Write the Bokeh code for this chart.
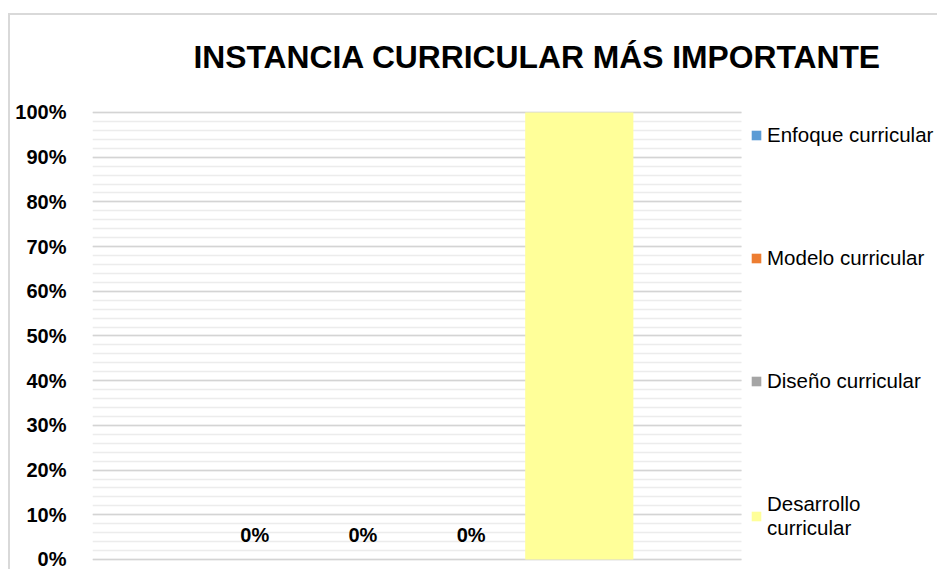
from bokeh.plotting import figure
from bokeh.models import (ColumnDataSource, Range1d, SingleIntervalTicker,
                          NumeralTickFormatter, Legend, LegendItem, Label)
from bokeh.core.properties import value
from bokeh.embed import file_html
from bokeh.resources import INLINE

TITLE = "INSTANCIA CURRICULAR MÁS IMPORTANTE"
series = ["Enfoque curricular", "Modelo curricular", "Diseño curricular", "Desarrollo\ncurricular"]
values = [0.0, 0.0, 0.0, 1.0]
colors = ["#5B9BD5", "#ED7D31", "#A5A5A5", "#FFFF99"]
value_labels = ["0%", "0%", "0%", ""]
positions = [0, 1, 2, 3]

FONT = "Liberation Sans"

p = figure(width=929, height=556, output_backend="svg", toolbar_location=None,
           x_range=Range1d(-1.5, 6.33), y_range=Range1d(-0.0045, 1.217),
           min_border_left=82, min_border_right=0, min_border_top=0,
           min_border_bottom=10)
p.styles = {"margin-top": "13px", "margin-left": "8px",
            "border-left": "2px solid #d9d9d9",
            "border-top": "2px solid #d9d9d9"}
p.outline_line_color = None
p.background_fill_color = "white"
p.border_fill_color = "white"

p.xaxis.visible = False
p.xgrid.grid_line_color = None

p.yaxis.ticker = SingleIntervalTicker(interval=0.1, num_minor_ticks=5)
p.yaxis.formatter = NumeralTickFormatter(format="0%")
p.yaxis.bounds = (0, 1)
p.yaxis.axis_line_color = None
p.yaxis.major_tick_line_color = None
p.yaxis.minor_tick_line_color = None
p.yaxis.major_tick_out = 0
p.yaxis.major_label_standoff = 22
p.yaxis.major_label_text_font = FONT
p.yaxis.major_label_text_font_style = "bold"
p.yaxis.major_label_text_font_size = "20px"
p.yaxis.major_label_text_color = "#000000"

p.ygrid.grid_line_color = "#d4d4d4"
p.ygrid.grid_line_width = 1.5
p.ygrid.minor_grid_line_color = "#ececec"
p.ygrid.minor_grid_line_width = 1.5
p.ygrid.bounds = (0, 1)
p.ygrid.cross_bounds = (-1.5, 4.5)

items = []
for s, v, c, x in zip(series, values, colors, positions):
    src = ColumnDataSource(dict(x=[x], top=[v]))
    r = p.vbar(x="x", top="top", bottom=0, width=1.0, source=src,
               fill_color=c, line_color=None)
    items.append(LegendItem(label=s, renderers=[r]))

lab_src = ColumnDataSource(dict(x=positions, y=values, text=value_labels))
p.text(x="x", y="y", text="text", source=lab_src, text_align="center",
       text_baseline="middle", y_offset=-24, text_font=value(FONT),
       text_font_style="bold", text_font_size="20px", text_color="#000000")

legend = Legend(items=items, location=(658, 21), orientation="vertical",
                glyph_width=12, glyph_height=12, label_standoff=5, spacing=99,
                padding=0, margin=0, border_line_color=None,
                background_fill_alpha=0, label_text_font=FONT,
                label_text_font_size="20.5px", label_text_color="#000000")
p.add_layout(legend)

title = Label(x=101, y=505, x_units="screen", y_units="screen", text=TITLE,
              text_font=FONT, text_font_style="bold", text_font_size="31.8px",
              text_align="left", text_baseline="alphabetic", text_color="#000000")
p.add_layout(title)

open("out.html", "w").write(file_html(p, INLINE))
